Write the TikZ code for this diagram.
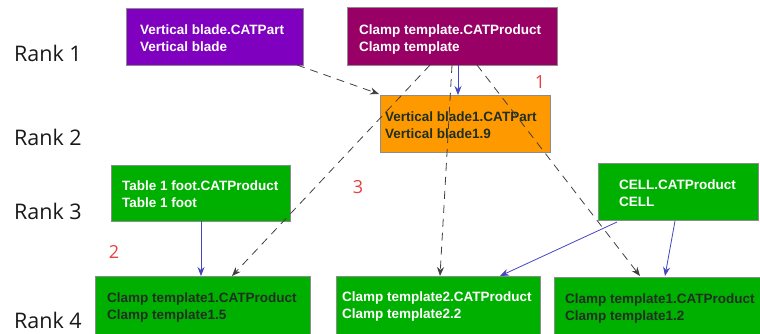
\documentclass[tikz,border=0pt]{standalone}
\usepackage{fontspec}
\setmainfont{Liberation Sans}
\newfontfamily\rankfont{Open Sans}
\usetikzlibrary{arrows.meta}
\definecolor{cpurple}{HTML}{8000C0}
\definecolor{cmaroon}{HTML}{990066}
\definecolor{corange}{HTML}{FF9900}
\definecolor{cgreen}{HTML}{00B000}
\definecolor{cblue}{HTML}{4545C0}
\definecolor{cdash}{HTML}{404040}
\definecolor{cred}{HTML}{E84040}
\definecolor{cdark}{HTML}{203020}
\tikzset{
  box/.style={anchor=base west, inner sep=0pt, font=\fontsize{13.5}{17}\selectfont\bfseries, align=left},
  frame/.style={draw=black!45, line width=0.8pt},
  wtxt/.style={text=white},
  dtxt/.style={text=cdark},
  rank/.style={font=\rankfont\fontsize{21.5}{24}\selectfont, anchor=base west, inner sep=0pt, text=black!90},
  dep/.style={draw=cdash, dashed, dash pattern=on 8pt off 6pt, line width=0.8pt, -{Stealth[length=9pt,width=7pt,inset=3pt]}},
  link/.style={draw=cblue, line width=0.8pt, -{Stealth[length=9pt,width=7pt,inset=3pt]}},
  num/.style={text=cred, font=\rankfont\fontsize{18}{20}\selectfont}
}
\begin{document}
\begin{tikzpicture}[x=1pt,y=-1pt]
\useasboundingbox (0,0) rectangle (760,333);
% boxes
\fill[cpurple] (126,8) rectangle (303,65);
\draw[frame] (126,8) rectangle (303,65);
\node[box, wtxt] (vb) at (140,51) {Vertical blade.CATPart\\Vertical blade};

\fill[cmaroon] (347,7) rectangle (557,65);
\draw[frame] (347,7) rectangle (557,65);
\node[box, wtxt] (ct) at (359,51) {Clamp template.CATProduct\\Clamp template};

\fill[corange] (380,95) rectangle (550,152);
\draw[frame] (380,95) rectangle (550,152);
\node[box, dtxt] (vb1) at (385,138) {Vertical blade1.CATPart\\Vertical blade1.9};

\fill[cgreen] (111,165) rectangle (290,221);
\draw[frame] (111,165) rectangle (290,221);
\node[box, wtxt] (tf) at (122,207) {Table 1 foot.CATProduct\\Table 1 foot};

\fill[cgreen] (598,163) rectangle (758,220);
\draw[frame] (598,163) rectangle (758,220);
\node[box, wtxt] (cell) at (619,206) {CELL.CATProduct\\CELL};

\fill[cgreen] (95,276) rectangle (310,340);
\draw[frame] (95,276) rectangle (310,340);
\node[box, dtxt] (c15) at (107,319) {Clamp template1.CATProduct\\Clamp template1.5};

\fill[cgreen] (336,276) rectangle (540,340);
\draw[frame] (336,276) rectangle (540,340);
\node[box, wtxt] (c22) at (342,318) {Clamp template2.CATProduct\\Clamp template2.2};

\fill[cgreen] (554,277) rectangle (762,340);
\draw[frame] (554,277) rectangle (762,340);
\node[box, dtxt] (c12) at (565,320) {Clamp template1.CATProduct\\Clamp template1.2};

% rank labels
\node[rank] (r1) at (14,61.5) {Rank 1};
\node[rank] (r2) at (14,145) {Rank 2};
\node[rank] (r3) at (14,219) {Rank 3};
\node[rank] (r4) at (14,328) {Rank 4};

% anchor coordinates
\coordinate (vbB) at (297,65);
\coordinate (ctA) at (430,65);
\coordinate (ctB) at (452,65);
\coordinate (ctC) at (458,65);
\coordinate (ctD) at (477,65);
\coordinate (vb1T) at (379,94);
\coordinate (vb1Tb) at (458,95);
\coordinate (c15T) at (232,276);
\coordinate (c15Tb) at (201,276);
\coordinate (tfB) at (201,221);
\coordinate (c22T) at (440,276);
\coordinate (c22Tb) at (500,276);
\coordinate (c12T) at (640,276);
\coordinate (c12Tb) at (665,276);
\coordinate (cellA) at (617,222);
\coordinate (cellB) at (675,221);

% connectors
\draw[dep] (vbB) -- (vb1T);
\draw[dep] (ctA) -- (c15T);
\draw[dep] (ctB) -- (c22T);
\draw[dep] (ctD) -- (c12T);
\draw[link] (ctC) -- (vb1Tb);
\draw[link] (tfB) -- (c15Tb);
\draw[link] (cellA) -- (c22Tb);
\draw[link] (cellB) -- (c12Tb);

% red numbers
\node[num] (n1) at (540,82) {1};
\node[num] (n3) at (358,187) {3};
\node[num] (n2) at (114,252) {2};
\end{tikzpicture}
\end{document}
